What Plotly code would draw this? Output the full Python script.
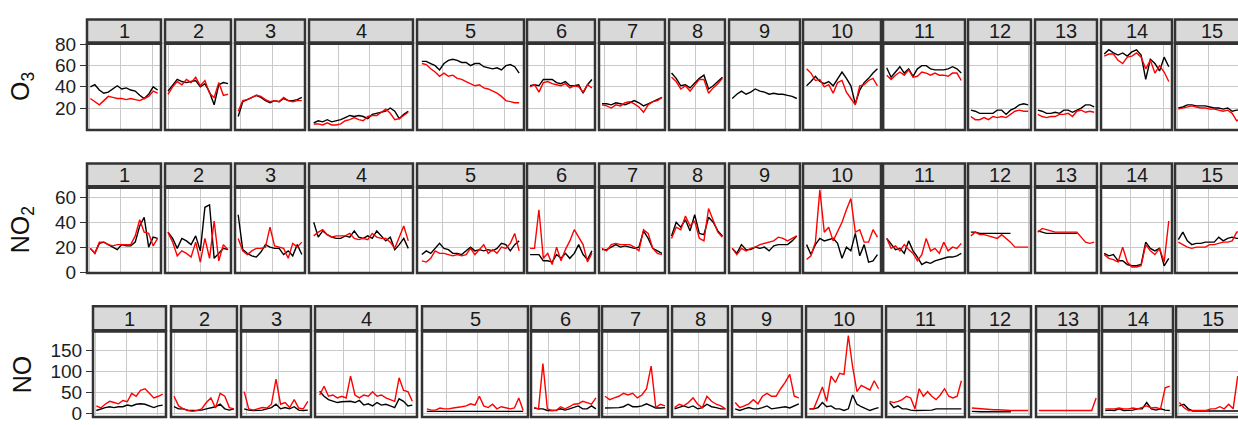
import plotly.graph_objects as go

W, H = 1238, 425

# ---------------------------------------------------------------- data
CAMPAIGNS = [str(i) for i in range(1, 16)]
O3_TICKS = [20, 40, 60, 80]
NO2_TICKS = [0, 20, 40, 60]
NO_TICKS = [0, 50, 100, 150]

# first weekly gridline of each campaign, in days from its first sample
WEEK_START = [6.8, 0.1, 0.55, 5.4, 4.6, 3.2, 0.5, 5.1, 4.6, 3.4, 6.4, 6.1, 6.3, 5.8, 6.7]

# daily means, one list per campaign (black = background site, red = roadside site)
O3_BLACK = [
    [40, 42, 37, 34, 35, 38, 41, 38, 39, 37, 36, 32, 29, 33, 40, 37],
    [36, 41, 47, 45, 44, 45, 46, 40, 43, 35, 23, 42, 44, 43],
    [12, 26, 28, 30, 32, 30, 27, 25, 27, 26, 29, 27, 27, 28, 30],
    [6, 8, 7, 9, 7, 8, 9, 11, 13, 12, 13, 12, 10, 14, 15, 16, 17, 20, 17, 10, 14, 17],
    [64, 64, 62, 60, 56, 62, 65, 66, 65, 63, 63, 60, 62, 62, 59, 58, 57, 58, 56, 60, 61, 59, 53],
    [41, 42, 41, 47, 47, 47, 44, 43, 45, 41, 41, 42, 34, 42, 47],
    [24, 24, 23, 25, 24, 23, 25, 27, 25, 22, 24, 26, 28, 30],
    [53, 48, 41, 42, 39, 44, 48, 51, 38, 41, 45, 49],
    [29, 33, 36, 33, 35, 38, 36, 35, 33, 34, 33, 33, 32, 31, 29],
    [41, 45, 50, 45, 43, 45, 41, 47, 54, 48, 41, 24, 37, 44, 48, 53, 57],
    [58, 49, 54, 59, 53, 57, 50, 57, 60, 60, 57, 56, 56, 56, 57, 59, 57, 53],
    [18, 17, 15, 15, 15, 15, 18, 18, 14, 18, 20, 23, 24, 23],
    [18, 17, 15, 15, 16, 15, 18, 18, 16, 18, 20, 23, 23, 21],
    [71, 75, 72, 70, 72, 69, 73, 75, 70, 47, 66, 62, 55, 68, 59],
    [20, 21, 23, 23, 22, 22, 22, 21, 20, 20, 19, 20, 17, 18, 18, 18],
]
O3_RED = [
    [29, 26, 23, 27, 31, 30, 29, 29, 28, 29, 28, 27, 29, 31, 36, 34],
    [33, 40, 45, 42, 47, 44, 49, 41, 46, 34, 30, 44, 32, 33],
    [17, 27, 28, 30, 32, 31, 28, 26, 27, 26, 30, 27, 26, 27, 27],
    [5, 5, 4, 6, 4, 4, 5, 8, 9, 11, 9, 8, 12, 13, 13, 16, 19, 15, 9, 10, 13, 16],
    [62, 61, 57, 54, 50, 53, 50, 51, 48, 47, 45, 43, 41, 42, 39, 38, 36, 34, 31, 27, 26, 25, 25],
    [40, 42, 35, 44, 45, 43, 42, 41, 43, 39, 41, 40, 35, 42, 39],
    [23, 22, 20, 23, 22, 25, 26, 24, 21, 16, 23, 26, 27, 30],
    [49, 45, 38, 41, 36, 42, 47, 47, 34, 39, 43, 48],
    [None, None, None, None, None, None, None, None, None, None, None, None, None, None, None],
    [57, 53, 46, 47, 40, 42, 34, 44, 46, 35, 29, 23, 41, 42, 46, 48, 41],
    [51, 47, 51, 54, 51, 56, 49, 50, 54, 53, 51, 53, 51, 51, 50, 53, 53, 46],
    [12, 9, 9, 11, 9, 12, 11, 12, 11, 14, 17, 18, 17, 17],
    [14, 12, 11, 12, 12, 14, 14, 15, 12, 17, 18, 16, 17, 16],
    [69, 71, 71, 65, 62, 68, 69, 72, 68, 57, 65, 53, 60, 54, 45],
    [19, 20, 21, 22, 21, 20, 20, 19, 19, 18, 17, 18, 15, 8, 10, 12],
]
NO2_BLACK = [
    [19, 15, 23, 24, 22, 20, 18, 22, 21, 21, 24, 37, 44, 20, 28, 27],
    [32, 27, 19, 27, 25, 22, 29, 17, 52, 54, 11, 15, 19, 18],
    [46, 18, 15, 13, 12, 16, 22, 20, 19, 19, 14, 17, 13, 22, 14],
    [40, 28, 33, 30, 28, 27, 27, 29, 28, 33, 28, 27, 29, 27, 33, 29, 25, 28, 18, 22, 27, 19],
    [14, 17, 15, 19, 23, 19, 18, 15, 15, 14, 17, 20, 17, 18, 17, 18, 17, 19, 23, 22, 17, 22, 25],
    [14, 14, 14, 9, 9, 8, 14, 11, 15, 11, 15, 22, 14, 10, 17],
    [18, 18, 20, 22, 20, 21, 20, 19, 20, 33, 27, 19, 17, 15],
    [29, 40, 36, 42, 33, 46, 31, 30, 44, 40, 33, 29],
    [19, 15, 22, 18, 18, 20, 19, 20, 17, 21, 22, 22, 22, 25, 29],
    [22, 14, 22, 27, 25, 26, 27, 23, 11, 20, 17, 31, 13, 22, 8, 9, 14],
    [27, 22, 18, 19, 15, 25, 17, 12, 6, 8, 7, 9, 10, 11, 12, 12, 13, 15],
    [32, 32, 31, 31, 31, 31, 31, 31, 31, 31, None, None, None, None],
    [33, 32, 31, 31, 31, 31, 31, 31, 31, 31, None, None, None, None],
    [15, 13, 14, 9, 9, 6, 5, 5, 6, 24, 19, 17, 19, 5, 11],
    [26, 32, 25, 22, 23, 23, 24, 24, 24, 28, 25, 27, 28, 27, 27, 27],
]
NO2_RED = [
    [19, 15, 24, 24, 22, 21, 22, 22, 22, 22, 29, 42, 32, 31, 21, 27],
    [32, 24, 13, 17, 15, 12, 24, 8, 27, 11, 41, 9, 22, 18],
    [27, 17, 14, 17, 19, 19, 20, 36, 21, 20, 19, 11, 23, 20, 24],
    [29, 32, 34, 30, 28, 29, 29, 29, 31, 27, 26, 27, 26, 31, 28, 27, 27, 24, 19, 28, 37, 25],
    [9, 8, 11, 17, 15, 15, 14, 13, 14, 13, 14, 19, 14, 18, 22, 15, 18, 15, 20, 19, 23, 31, 17],
    [19, 19, 50, 11, 15, 6, 20, 9, 18, 25, 34, 28, 22, 8, 15],
    [19, 17, 22, 23, 22, 22, 22, 20, 17, 34, 31, 19, 15, 14],
    [27, 36, 34, 45, 37, 41, 27, 25, 51, 42, 32, 28],
    [19, 14, 19, 17, 19, 20, 22, 23, 24, 25, 28, 27, 25, 27, 29],
    [10, 13, 24, 66, 32, 36, 25, 32, 40, 50, 59, 32, 34, 24, 24, 34, 28],
    [27, 19, 21, 17, 22, 18, 15, 9, 14, 27, 17, 19, 15, 24, 17, 20, 19, 23],
    [29, 32, 30, 30, 29, 28, 27, 30, 27, 24, 20, 20, 20, 20],
    [32, 35, 34, 33, 32, 32, 32, 32, 32, 32, 28, 24, 23, 24],
    [14, 11, 10, 8, 20, 8, 4, 4, 5, 22, 17, 14, 19, 8, 41],
    [24, 22, 20, 19, 20, 20, 20, 22, 22, 23, 24, 24, 25, 32, 33, 33],
]
NO_BLACK = [
    [6, 10, 13, 15, 13, 15, 15, 19, 17, 21, 22, 21, 17, 13, 17, 19],
    [15, 10, 10, 7, 6, 7, 7, 10, 13, 15, 21, 10, 7, 10],
    [10, 7, 6, 6, 7, 10, 13, 21, 10, 13, 10, 15, 7, 6, 7],
    [52, 40, 32, 28, 25, 27, 28, 28, 25, 30, 19, 22, 17, 25, 19, 21, 17, 13, 34, 28, 17, 19],
    [4, 4, 3, 3, 4, 4, 3, 3, 4, 4, 3, 3, 4, 4, 3, 3, 4, 4, 3, 4, 4, 3, 4],
    [12, 10, 10, 6, 6, 7, 10, 7, 10, 13, 17, 10, 10, 17, 10],
    [12, 12, 13, 13, 15, 21, 15, 15, 17, 22, 17, 12, 12, 13],
    [10, 13, 17, 13, 17, 10, 13, 21, 15, 13, 10, 10],
    [10, 6, 10, 13, 10, 10, 13, 17, 10, 12, 13, 15, 12, 17, 22],
    [10, 10, 13, 25, 15, 17, 10, 10, 6, 10, 43, 21, 15, 10, 6, 10, 13],
    [25, 13, 17, 10, 10, 7, 6, 6, 7, 7, 7, 10, 10, 10, 10, 10, 10, 10],
    [4, 3, 3, 3, 3, 3, 3, 3, 3, 3, None, None, None, None],
    [None, None, None, None, None, None, None, None, None, None, None, None, None, None],
    [6, 7, 6, 10, 6, 6, 7, 10, 10, 25, 10, 7, 10, 7, 6],
    [17, 21, 10, 5, 5, 5, 5, 5, 5, 5, 5, 5, 5, 5, 5, 5],
]
NO_RED = [
    [17, 12, 21, 28, 25, 22, 30, 27, 47, 40, 54, 58, 47, 36, 40, 45],
    [40, 17, 10, 6, 4, 6, 10, 25, 36, 12, 47, 40, 13, 10],
    [51, 10, 7, 10, 13, 12, 21, 81, 21, 25, 13, 32, 12, 10, 28],
    [43, 64, 40, 43, 36, 40, 36, 88, 43, 36, 43, 40, 51, 40, 43, 36, 32, 28, 84, 54, 51, 28],
    [10, 7, 7, 12, 10, 10, 12, 13, 15, 17, 22, 19, 40, 17, 13, 21, 10, 15, 13, 10, 12, 36, 6],
    [13, 10, 118, 10, 6, 6, 15, 10, 15, 21, 22, 28, 25, 21, 36],
    [40, 32, 36, 40, 47, 43, 47, 36, 43, 58, 112, 13, 21, 17],
    [13, 21, 17, 25, 36, 21, 13, 40, 28, 21, 17, 10],
    [25, 13, 17, 22, 32, 22, 40, 47, 40, 40, 58, 73, 92, 40, 36],
    [10, 10, 36, 62, 28, 88, 73, 95, 92, 185, 110, 51, 66, 60, 55, 77, 58],
    [28, 25, 28, 32, 40, 36, 10, 58, 40, 51, 40, 32, 43, 58, 40, 36, 40, 77],
    [12, 11, 10, 10, 9, 8, 8, 7, 7, 6, 6, 6, 6, 6],
    [6, 6, 6, 6, 6, 6, 6, 6, 6, 6, 6, 6, 6, 36],
    [10, 10, 10, 12, 10, 10, 12, 10, 13, 17, 12, 13, 10, 60, 64],
    [25, 13, 6, 6, 6, 7, 6, 10, 10, 15, 10, 21, 10, 88, 60, 40],
]

# ---------------------------------------------------------------- layout geometry (px)
EDGES_TOP = [(87, 161), (165, 231), (235, 305), (309, 413), (417, 524), (527, 595),
             (599, 665), (669, 725), (729, 800), (803, 881), (883, 965), (968, 1031),
             (1035, 1097), (1101, 1172), (1175, 1249)]
EDGES_NO = [(93, 166), (171, 237), (241, 311), (315, 417), (422, 528), (531, 599),
            (602, 668), (672, 728), (732, 802), (806, 882), (886, 965), (969, 1031),
            (1036, 1099), (1102, 1173), (1176, 1250)]

ROWS = [
    dict(title="O<sub>3</sub>", black=O3_BLACK, red=O3_RED, ticks=O3_TICKS,
         edges=EDGES_TOP, strip=(10, 34), panel=(35.5, 126), yrange=(-0.8, 80.6)),
    dict(title="NO<sub>2</sub>", black=NO2_BLACK, red=NO2_RED, ticks=NO2_TICKS,
         edges=EDGES_TOP, strip=(161, 185), panel=(186.5, 276), yrange=(-0.8, 67.7)),
    dict(title="NO", black=NO_BLACK, red=NO_RED, ticks=NO_TICKS,
         edges=EDGES_NO, strip=(311, 336), panel=(337.5, 427), yrange=(-9.25, 194.25)),
]

FONT = "Liberation Sans, Arial, sans-serif"
BORDER = "#333333"
GRID = "#c9c9c9"
BW = 2.5


def px_x(v):
    return v / W


def px_y(v):
    return 1 - v / H


fig = go.Figure()
shapes, annotations = [], []
layout = {}

k = 0
for r, row in enumerate(ROWS):
    top, bottom = row["panel"]
    ylo, yhi = row["yrange"]
    vis_bottom = min(bottom, H)
    # trim the value range to the part of the panel inside the page
    ylo_vis = yhi - (yhi - ylo) * (vis_bottom - top) / (bottom - top)
    ydom = [max(px_y(vis_bottom), 0), px_y(top)]

    for j, lab in enumerate(CAMPAIGNS):
        k += 1
        left, right = row["edges"][j]
        blk, red = row["black"][j], row["red"][j]
        n = len(blk)
        xs = list(range(n))
        xlo, xhi = -0.05 * (n - 1), 1.05 * (n - 1)
        vis_right = min(right, W)
        xhi_vis = xlo + (xhi - xlo) * (vis_right - left) / (right - left)

        g = WEEK_START[j]
        while g - 7 > xlo:
            g -= 7
        grid = []
        while g < xhi_vis:
            grid.append(g)
            g += 7

        sfx = "" if k == 1 else str(k)
        layout["xaxis" + sfx] = dict(
            domain=[px_x(left), px_x(vis_right)], range=[xlo, xhi_vis],
            tickvals=grid, showticklabels=False, ticks="", showgrid=True,
            gridcolor=GRID, gridwidth=1, zeroline=False, showline=False,
            anchor="y" + sfx, fixedrange=True,
        )
        first = j == 0
        layout["yaxis" + sfx] = dict(
            domain=ydom, range=[ylo_vis, yhi], tickvals=row["ticks"],
            showticklabels=first, ticks="outside" if first else "",
            ticklen=6, tickwidth=1.3, tickcolor=BORDER,
            tickfont=dict(family=FONT, size=19, color="#1e1e1e"),
            showgrid=True, gridcolor=GRID, gridwidth=1, zeroline=False,
            showline=False, anchor="x" + sfx, fixedrange=True,
        )

        for vals, col in ((blk, "#000000"), (red, "#ff0000")):
            fig.add_trace(go.Scatter(
                x=xs, y=vals, mode="lines", line=dict(color=col, width=1.4),
                xaxis="x" + sfx, yaxis="y" + sfx, showlegend=False,
                hoverinfo="skip", connectgaps=False,
            ))

        # panel frame
        shapes.append(dict(type="rect", xref="paper", yref="paper",
                           x0=px_x(left), x1=px_x(right), y0=px_y(bottom), y1=px_y(top),
                           line=dict(color=BORDER, width=BW), fillcolor="rgba(0,0,0,0)",
                           layer="above"))
        # facet strip
        s0, s1 = row["strip"]
        shapes.append(dict(type="rect", xref="paper", yref="paper",
                           x0=px_x(left), x1=px_x(right), y0=px_y(s1), y1=px_y(s0),
                           line=dict(color=BORDER, width=BW), fillcolor="#d9d9d9",
                           layer="above"))
        annotations.append(dict(text=lab, xref="paper", yref="paper",
                                x=px_x((left + right) / 2), y=px_y((s0 + s1) / 2 + 0.5),
                                xanchor="center", yanchor="middle", showarrow=False,
                                font=dict(family=FONT, size=20, color="#1a1a1a")))

    annotations.append(dict(text=row["title"], xref="paper", yref="paper",
                            x=px_x(22), y=px_y((top + bottom) / 2), textangle=-90,
                            xanchor="center", yanchor="middle", showarrow=False,
                            font=dict(family=FONT, size=25, color="#111111")))

fig.update_layout(
    width=W, height=H, autosize=False,
    margin=dict(l=0, r=0, t=0, b=0, pad=0),
    paper_bgcolor="white", plot_bgcolor="white",
    shapes=shapes, annotations=annotations, **layout,
)

fig.write_html("out.html", config={"displayModeBar": False})
